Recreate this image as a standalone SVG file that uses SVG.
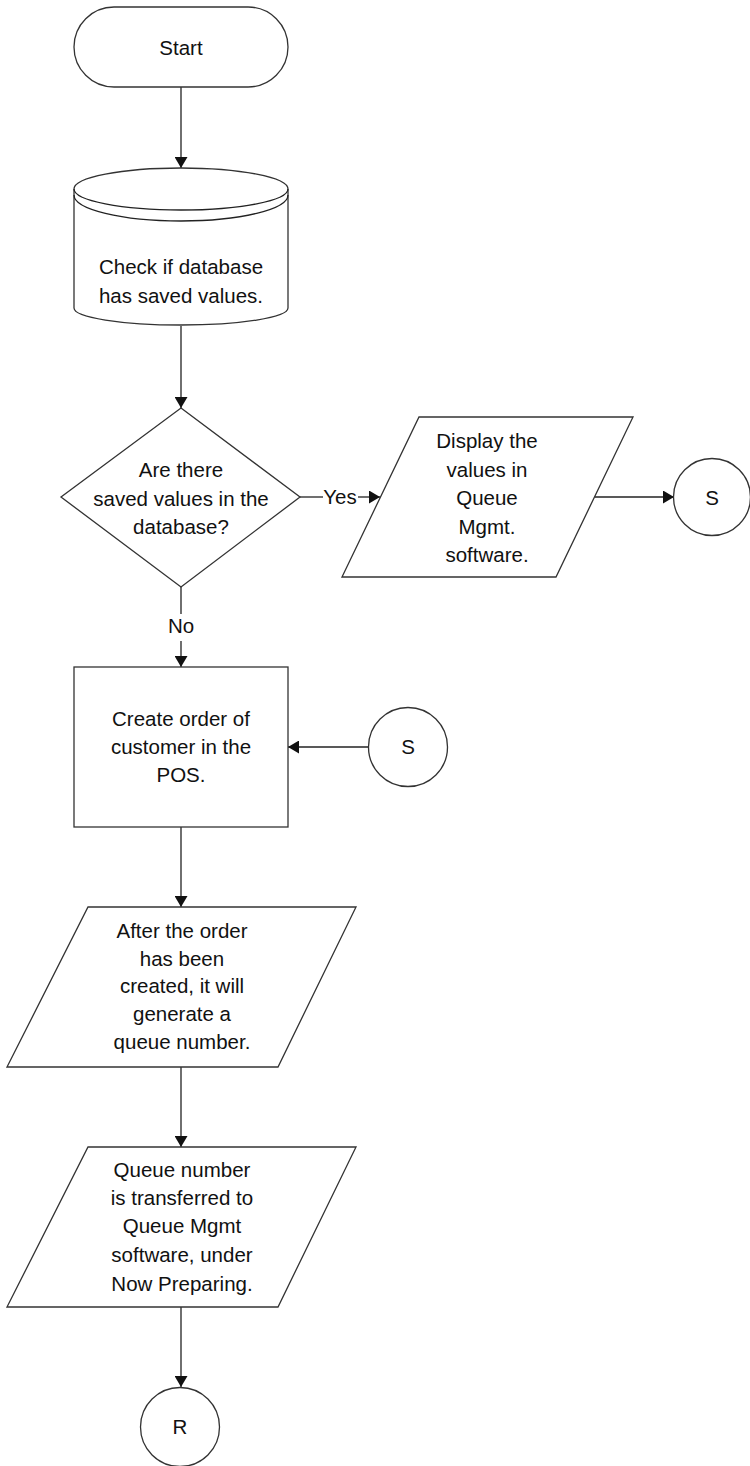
<svg xmlns="http://www.w3.org/2000/svg" width="750" height="1466" viewBox="0 0 750 1466">
<style>
.n{fill:#fff;stroke:#333;stroke-width:1.3}
.c{fill:none;stroke:#222;stroke-width:1.3}
text{font-family:"Liberation Sans",Arial,sans-serif;font-size:20.5px;fill:#111;text-anchor:middle}
</style>
<defs>
<marker id="ah" markerUnits="userSpaceOnUse" markerWidth="11" markerHeight="13" refX="11" refY="6.5" orient="auto">
<path d="M0,0 L11,6.5 L0,13 Z" fill="#111"/>
</marker>
</defs>
<g id="connectors">
<path class="c" d="M181,87 V168" marker-end="url(#ah)"/>
<path class="c" d="M181,326 V408" marker-end="url(#ah)"/>
<path class="c" d="M300,497 H323"/>
<path class="c" d="M358,497 H380" marker-end="url(#ah)"/>
<path class="c" d="M595,497 H674" marker-end="url(#ah)"/>
<path class="c" d="M181,587 V614"/>
<path class="c" d="M181,641 V667" marker-end="url(#ah)"/>
<path class="c" d="M368,747 H288" marker-end="url(#ah)"/>
<path class="c" d="M181,827 V907" marker-end="url(#ah)"/>
<path class="c" d="M181,1067 V1147" marker-end="url(#ah)"/>
<path class="c" d="M181,1307 V1387" marker-end="url(#ah)"/>
<text x="340" y="504">Yes</text>
<text x="181" y="633">No</text>
</g>
<g id="start">
<rect class="n" x="74" y="7" width="214" height="80" rx="40"/>
<text x="181" y="55">Start</text>
</g>
<g id="database">
<path class="n" d="M74,189 A107,21 0 0 1 288,189 L288,308 A107,17 0 0 1 74,308 Z"/>
<path class="c" d="M74,189 A107,21 0 0 0 288,189"/>
<path class="c" d="M74,195 A107,26 0 0 0 288,195"/>
<text x="181" y="274">Check if database</text>
<text x="181" y="303">has saved values.</text>
</g>
<g id="decision">
<path class="n" d="M181,408 L300,497 L181,587 L61,497 Z"/>
<text x="181" y="477">Are there</text>
<text x="181" y="506">saved values in the</text>
<text x="181" y="534">database?</text>
</g>
<g id="display">
<path class="n" d="M419,417 L633,417 L556,577 L342,577 Z"/>
<text x="487" y="448">Display the</text>
<text x="487" y="477">values in</text>
<text x="487" y="505">Queue</text>
<text x="487" y="534">Mgmt.</text>
<text x="487" y="562">software.</text>
</g>
<g id="s1">
<circle class="n" cx="712" cy="497" r="38.5"/>
<text x="712" y="505">S</text>
</g>
<g id="create">
<rect class="n" x="74" y="667" width="214" height="160"/>
<text x="181" y="726">Create order of</text>
<text x="181" y="754">customer in the</text>
<text x="181" y="782">POS.</text>
</g>
<g id="s2">
<circle class="n" cx="408" cy="747" r="39.5"/>
<text x="408" y="754">S</text>
</g>
<g id="generate">
<path class="n" d="M88,907 L356,907 L278,1067 L7,1067 Z"/>
<text x="182" y="938">After the order</text>
<text x="182" y="966">has been</text>
<text x="182" y="993">created, it will</text>
<text x="182" y="1021">generate a</text>
<text x="182" y="1049">queue number.</text>
</g>
<g id="transfer">
<path class="n" d="M88,1147 L356,1147 L278,1307 L7,1307 Z"/>
<text x="182" y="1177">Queue number</text>
<text x="182" y="1205">is transferred to</text>
<text x="182" y="1233">Queue Mgmt</text>
<text x="182" y="1262">software, under</text>
<text x="182" y="1291">Now Preparing.</text>
</g>
<g id="r">
<circle class="n" cx="180" cy="1427" r="39.5"/>
<text x="180" y="1434">R</text>
</g>
</svg>
